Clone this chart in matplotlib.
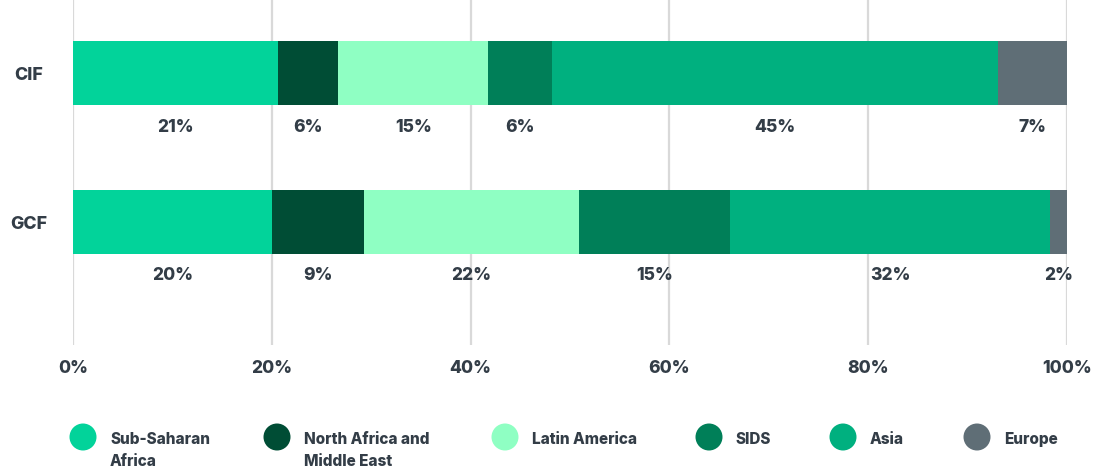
import matplotlib
matplotlib.use("Agg")
import matplotlib.pyplot as plt
from matplotlib.patches import Ellipse

categories = ["CIF", "GCF"]
regions = ["Sub-Saharan\nAfrica", "North Africa and\nMiddle East", "Latin America", "SIDS", "Asia", "Europe"]
cif_values = [20.6, 6.1, 15.1, 6.4, 44.9, 6.9]
gcf_values = [20.0, 9.3, 21.6, 15.2, 32.2, 1.7]
cif_labels = ["21%", "6%", "15%", "6%", "45%", "7%"]
gcf_labels = ["20%", "9%", "22%", "15%", "32%", "2%"]
colors = ["#02d39a", "#004d35", "#8fffc3", "#007f58", "#00b07f", "#5f6e76"]
xticks = [0, 20, 40, 60, 80, 100]
xtick_labels = ["0%", "20%", "40%", "60%", "80%", "100%"]

TEXT = "#333d47"
FONT = ["Inter", "DejaVu Sans"]
plt.rcParams["font.family"] = FONT
WEIGHT = 800

W, H = 1103, 472
fig = plt.figure(figsize=(W / 100, H / 100), dpi=100)
ax = fig.add_axes([73 / W, 1 - 345 / H, (1067 - 73) / W, 345 / H])

series = [cif_values, gcf_values]
labels = [cif_labels, gcf_labels]
ypos = [0, 1]
bar_h = 64 / 149

for yi, vals, labs in zip(ypos, series, labels):
    left = 0
    for v, c, lab in zip(vals, colors, labs):
        ax.barh(yi, v, left=left, height=bar_h, color=c, zorder=2, linewidth=0)
        cx = left + v / 2
        ax.text(cx, yi + bar_h / 2 + 22 / 149, lab, ha="center", va="center",
                fontsize=12.5, fontweight=WEIGHT, color=TEXT)
        left += v

ax.set_xlim(0, 100)
ax.set_ylim(1 + (345 - 222) / 149, -73 / 149)
ax.set_xticks(xticks)
ax.set_xticklabels(xtick_labels, fontsize=12.5, fontweight=WEIGHT, color=TEXT)
ax.set_yticks(ypos)
ax.set_yticklabels(categories, fontsize=12.8, fontweight=WEIGHT, color=TEXT, ha="center")
ax.tick_params(axis="x", length=0, pad=11)
ax.tick_params(axis="y", length=0, pad=44 * 0.72)
for s in ax.spines.values():
    s.set_visible(False)
ax.grid(axis="x", color="#d9d9d9", linewidth=1.6, zorder=0)
ax.set_axisbelow(True)

# legend
leg_x = [83, 277, 505, 709, 843, 977]
leg_y = 437
for x, c, name in zip(leg_x, colors, regions):
    e = Ellipse((x / W, 1 - leg_y / H), 27 / W, 27 / H, transform=fig.transFigure,
                color=c, linewidth=0)
    fig.add_artist(e)
    fig.text((x + 27) / W, 1 - (leg_y - 5) / H, name, ha="left", va="top",
             fontsize=11, fontweight=WEIGHT, color=TEXT, linespacing=1.6)

fig.savefig("out.png", dpi=100, facecolor="white")
